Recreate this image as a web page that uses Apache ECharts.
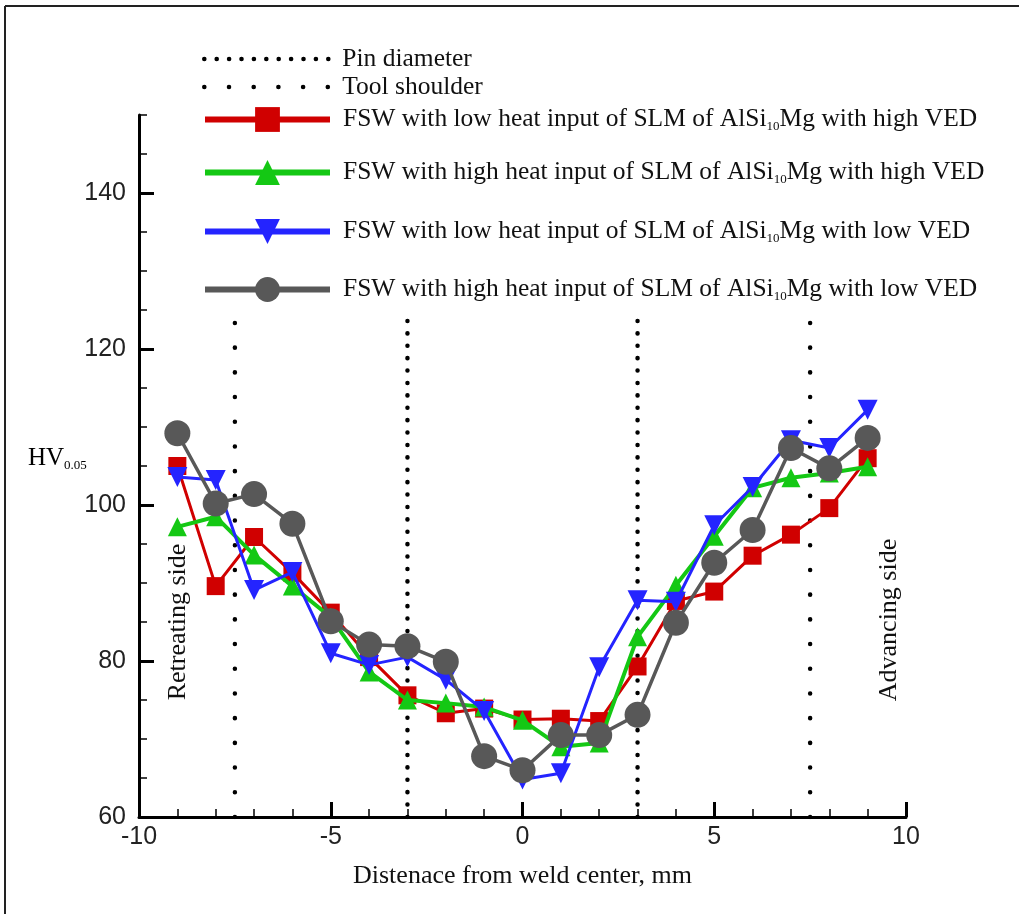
<!DOCTYPE html>
<html>
<head>
<meta charset="utf-8">
<script src="https://cdn.jsdelivr.net/npm/echarts@6/dist/echarts.min.js"></script>
<style>html,body{margin:0;padding:0;background:#fff;}#chart{width:1019px;height:914px;}</style>
</head>
<body>
<div id="chart"></div>
<script>
// ---- data ----
const xValues = [-9,-8,-7,-6,-5,-4,-3,-2,-1,0,1,2,3,4,5,6,7,8,9];
const redLowHeatHighVED   = [105.0,89.6,95.9,91.3,86.2,80.5,75.6,73.3,73.9,72.5,72.6,72.3,79.3,87.7,88.9,93.5,96.2,99.6,106.0];
const greenHighHeatHighVED= [97.2,98.5,93.6,89.6,85.6,78.6,75.0,74.6,74.1,72.4,69.0,69.5,83.1,89.7,96.0,102.2,103.5,104.1,104.9];
const blueLowHeatLowVED   = [103.6,103.2,89.1,91.4,81.0,79.5,80.5,77.6,73.6,64.8,65.6,79.2,87.8,87.6,97.4,102.3,108.3,107.3,112.2];
const grayHighHeatLowVED  = [109.2,100.2,101.4,97.6,85.1,82.1,81.9,79.9,67.8,66.0,70.5,70.5,73.1,84.9,92.6,96.8,107.3,104.7,108.6];
const pinX = [-3, 3];
const shoulderX = [-7.5, 7.5];
const guideRange = [60, 124];
const yTickValues = [60, 80, 100, 120, 140];
const seriesNames = [
  ['FSW with low heat input of SLM of AlSi', '10', 'Mg with high VED'],
  ['FSW with high heat input of SLM of AlSi', '10', 'Mg with high VED'],
  ['FSW with low heat input of SLM of AlSi', '10', 'Mg with low VED'],
  ['FSW with high heat input of SLM of AlSi', '10', 'Mg with low VED']
];
const guideNames = ['Pin diameter', 'Tool shoulder'];

// ---- build ----
const SERIF = '"Liberation Serif","Times New Roman",serif';
const SANS = '"Liberation Sans",Arial,sans-serif';
const fullName = n => n.join('');
const pairs = vals => xValues.map((x, i) => [x, vals[i]]);
const colors = ['#d00000', '#14c814', '#2424ff', '#585858'];
const symbols = ['rect', 'triangle', 'triangle', 'circle'];
const symSizes = [18, 19, 20, 26];
const symRot = [0, 0, 180, 0];
const widths = [3, 4, 3, 3.5];
const allVals = [redLowHeatHighVED, greenHighHeatHighVED, blueLowHeatLowVED, grayHighHeatLowVED];
const guideDash = [[0.1, 12.3], [0.1, 24.6]];

const series = [];
function guideSeries(name, xs, dash) {
  xs.forEach(x => {
    series.push({
      name: name, type: 'line', xAxisIndex: 0, yAxisIndex: 0,
      data: [[x, guideRange[0]], [x, guideRange[1]]],
      symbol: 'none', silent: true, z: 1,
      lineStyle: { color: '#000', width: 4.5, type: dash, cap: 'round' }
    });
  });
}
guideSeries(guideNames[0], pinX, guideDash[0]);
guideSeries(guideNames[1], shoulderX, guideDash[1]);
allVals.forEach((vals, i) => {
  series.push({
    name: fullName(seriesNames[i]), type: 'line', xAxisIndex: 0, yAxisIndex: 0,
    data: pairs(vals), symbol: symbols[i], symbolSize: symSizes[i], symbolRotate: symRot[i],
    z: 2 + i,
    itemStyle: { color: colors[i] },
    lineStyle: { color: colors[i], width: widths[i] }
  });
});

const FS = 25.5;
const legendTops = [55, 83, 117, 170, 229, 287];
const legendNames = guideNames.concat(seriesNames.map(fullName));
const legends = legendNames.map((nm, i) => {
  const ih = i < 2 ? 28 : 31;
  const lg = {
    data: [nm], left: 197, top: legendTops[i] - ih / 2, itemWidth: 125, itemHeight: ih,
    selectedMode: false,
    textStyle: {
      color: '#111', fontFamily: SERIF, fontSize: FS, padding: [0, 0, 0, 8],
      rich: {
        a: { fontFamily: SERIF, fontSize: FS, color: '#111', lineHeight: 28 },
        b: { fontFamily: SERIF, fontSize: 13, color: '#111', lineHeight: 13, verticalAlign: 'bottom' }
      }
    },
    formatter: function (name) {
      const idx = seriesNames.findIndex(s => fullName(s) === name);
      if (idx < 0) return '{a|' + name + '}';
      const p = seriesNames[idx];
      return '{a|' + p[0] + '}{b|' + p[1] + '}{a|' + p[2] + '}';
    }
  };
  if (i < 2) {
    lg.itemStyle = { opacity: 0 };
    lg.lineStyle = { color: '#000', width: 4.5, type: guideDash[i], cap: 'round' };
  } else {
    lg.itemStyle = { color: colors[i - 2] };
    lg.lineStyle = { color: colors[i - 2], width: 6 };
  }
  return lg;
});

const option = {
  animation: false,
  backgroundColor: '#fff',
  grid: { left: 139, right: 113, top: 115, bottom: 97, containLabel: false },
  legend: legends,
  xAxis: [{
    type: 'value', min: -10, max: 10, interval: 5,
    name: 'Distenace from weld center, mm', nameLocation: 'middle', nameGap: 46,
    nameTextStyle: { fontFamily: SERIF, fontSize: 26, color: '#111' },
    axisLine: { show: true, onZero: false, lineStyle: { color: '#000', width: 3 } },
    axisTick: { show: true, inside: true, length: 15, lineStyle: { color: '#000', width: 3 } },
    minorTick: { show: true, splitNumber: 5, length: 8, lineStyle: { color: '#000', width: 1.5 } },
    axisLabel: { fontFamily: SANS, fontSize: 25, color: '#222', margin: 8 },
    splitLine: { show: false }
  }],
  yAxis: [{
    type: 'value', min: 60, max: 150, interval: 5, position: 'left',
    axisLine: { show: true, onZero: false, lineStyle: { color: '#000', width: 3 } },
    axisTick: { show: true, inside: true, length: 8, lineStyle: { color: '#000', width: 1.5 } },
    axisLabel: { show: false },
    splitLine: { show: false }
  }, {
    type: 'value', min: 60, max: 150, interval: 20, position: 'left', offset: 0,
    axisLine: { show: false, onZero: false },
    axisTick: { show: true, inside: true, length: 15, customValues: yTickValues, lineStyle: { color: '#000', width: 3 } },
    axisLabel: { show: true, customValues: yTickValues, fontFamily: SANS, fontSize: 25, color: '#222', margin: 13 },
    splitLine: { show: false }
  }],
  graphic: [
    { type: 'line', shape: { x1: 5, y1: 6, x2: 5, y2: 914 }, style: { stroke: '#222', lineWidth: 2 } },
    { type: 'line', shape: { x1: 5, y1: 6, x2: 1019, y2: 6 }, style: { stroke: '#222', lineWidth: 2 } },
    { type: 'text', left: 28, top: 446, style: {
        text: '{a|HV}{b|0.05}', rich: {
          a: { fontFamily: SERIF, fontSize: 25, color: '#111', lineHeight: 28 },
          b: { fontFamily: SERIF, fontSize: 13, color: '#111', lineHeight: 13, verticalAlign: 'bottom' }
        } } },
    { type: 'text', x: 178, y: 622, rotation: Math.PI / 2, style: {
        text: 'Retreating side', font: '26px ' + SERIF, fill: '#111', align: 'center', verticalAlign: 'middle' } },
    { type: 'text', x: 889, y: 620, rotation: Math.PI / 2, style: {
        text: 'Advancing side', font: '26px ' + SERIF, fill: '#111', align: 'center', verticalAlign: 'middle' } }
  ],
  series: series
};
const chart = echarts.init(document.getElementById('chart'), null, { renderer: 'canvas' });
chart.setOption(option);
</script>
</body>
</html>
